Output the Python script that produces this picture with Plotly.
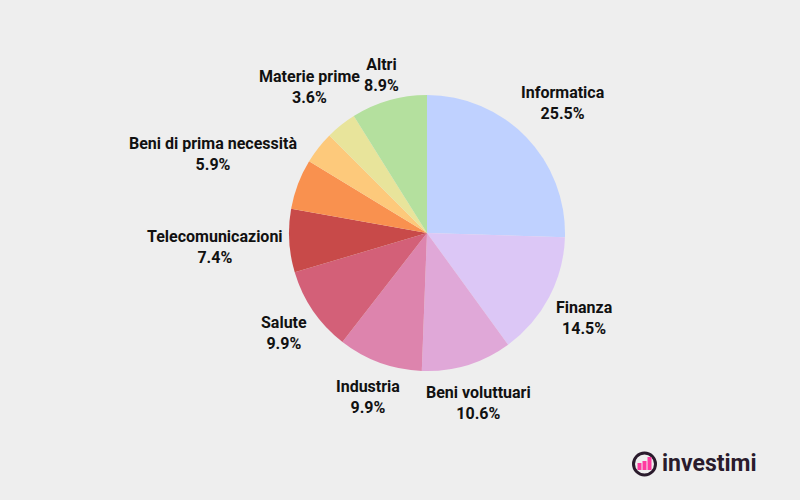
import math
import plotly.graph_objects as go

labels = ["Informatica", "Finanza", "Beni voluttuari", "Industria", "Salute",
          "Telecomunicazioni", "Beni di prima necessità", "Servizi di pubblica utilità",
          "Materie prime", "Altri"]
values = [25.5, 14.5, 10.6, 9.9, 9.9, 7.4, 5.9, 3.8, 3.6, 8.9]
show_label = [True, True, True, True, True, True, True, False, True, True]
colors = ["#bfd1ff", "#dcc7f6", "#e0a8d8", "#dd84ad", "#d36078",
          "#c84a49", "#f9914f", "#fdc97b", "#e8e49b", "#b4e09e"]

W, H = 800, 500
CX, CY, R = 427, 233, 138
FS = 16

fig = go.Figure(go.Pie(
    labels=labels, values=values, sort=False, direction="clockwise", rotation=0,
    marker=dict(colors=colors, line=dict(width=0)),
    textinfo="none",
    domain=dict(x=[(CX - R) / W, (CX + R) / W], y=[1 - (CY + R) / H, 1 - (CY - R) / H]),
    showlegend=False, hoverinfo="label+percent",
))

# approximate Roboto Bold advance widths (em)
CW = {'a': .54, 'b': .56, 'c': .52, 'd': .56, 'e': .53, 'f': .35, 'g': .56, 'h': .55,
      'i': .25, 'l': .25, 'm': .87, 'n': .55, 'o': .57, 'p': .56, 'r': .35, 's': .52,
      't': .33, 'u': .55, 'v': .49, 'z': .50, 'à': .54, ' ': .25, '.': .27, '%': .73}
def text_w(s):
    return sum(CW.get(ch, .56 if ch.isdigit() else (.62 if ch.isupper() else .54)) for ch in s) * FS

total = sum(values)
cum = 0.0
for lab, v, show in zip(labels, values, show_label):
    mid = (cum + v / 2) / total * 2 * math.pi
    cum += v
    if not show:
        continue
    pct = f"{v / total * 100:.1f}%"
    ux, uy = math.sin(mid), -math.cos(mid)
    w2 = max(text_w(lab), text_w(pct)) / 2 + 4
    h2 = 21
    d = R + abs(ux) * w2 + abs(uy) * h2 + 2
    x = CX + ux * d
    y = CY + uy * d + 1.5
    fig.add_annotation(x=x / W, y=1 - y / H, xref="paper", yref="paper",
                       text=f"<b>{lab}</b><br><b>{pct}</b>", showarrow=False,
                       xanchor="center", yanchor="middle", align="center",
                       font=dict(family="Roboto", size=FS, color="#111111"))

# logo
fig.add_shape(type="circle", xref="paper", yref="paper",
              x0=633.5/W, x1=655.5/W, y0=1-475/H, y1=1-453/H,
              line=dict(color="#2a1b2c", width=3), fillcolor="rgba(0,0,0,0)")
bars = [(637.5, 463), (642.5, 461), (647.5, 457)]
for bx, top in bars:
    fig.add_shape(type="rect", xref="paper", yref="paper",
                  x0=bx/W, x1=(bx+4)/W, y0=1-470/H, y1=1-top/H,
                  line=dict(width=0), fillcolor="#ff3aa0")
fig.add_annotation(x=660/W, y=1-463/H, xref="paper", yref="paper",
                   text="<b>investimi</b>", showarrow=False, xanchor="left", yanchor="middle",
                   font=dict(family="Roboto", size=23, color="#2a1b2c"))

fig.update_layout(
    width=W, height=H,
    margin=dict(l=0, r=0, t=0, b=0),
    paper_bgcolor="#eeeeee", plot_bgcolor="#eeeeee",
)
fig.write_html("out.html", config={"displayModeBar": False},
               post_script="document.body.style.margin='0';document.body.style.background='#eeeeee';")
